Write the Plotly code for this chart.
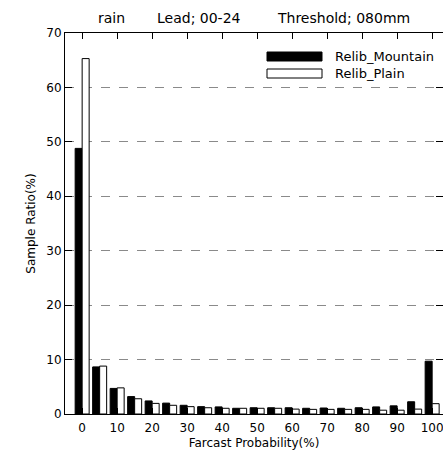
import plotly.graph_objects as go

bins = [0, 5, 10, 15, 20, 25, 30, 35, 40, 45, 50, 55, 60, 65, 70, 75, 80, 85, 90, 95, 100]
mountain = [48.8, 8.65, 4.7, 3.2, 2.4, 2.0, 1.6, 1.35, 1.3, 1.05, 1.15, 1.15, 1.15, 1.05, 1.1, 1.05, 1.15, 1.3, 1.5, 2.25, 9.7]
plain = [65.3, 8.8, 4.8, 2.8, 1.95, 1.6, 1.35, 1.15, 1.05, 1.05, 1.05, 1.05, 0.9, 0.85, 0.85, 0.85, 0.85, 0.7, 0.7, 0.9, 1.9]
x_ticks = [0, 10, 20, 30, 40, 50, 60, 70, 80, 90, 100]
y_ticks = [0, 10, 20, 30, 40, 50, 60, 70]
title_parts = ["rain", "Lead; 00-24", "Threshold; 080mm"]

FONT = "DejaVu Sans"

fig = go.Figure()
fig.add_trace(go.Bar(x=bins, y=mountain, width=2, offset=-2, name="Relib_Mountain",
                     marker=dict(color="black", line=dict(color="black", width=1)),
                     showlegend=False))
fig.add_trace(go.Bar(x=bins, y=plain, width=2, offset=0, name="Relib_Plain",
                     marker=dict(color="white", line=dict(color="black", width=1)),
                     showlegend=False))

axis_common = dict(showline=True, linecolor="black", linewidth=1, mirror="ticks",
                   ticks="inside", tickcolor="black", tickwidth=1,
                   tickfont=dict(family=FONT, size=12, color="black"), zeroline=False)

fig.update_xaxes(range=[-4.9, 103.1], tickvals=x_ticks, ticklen=6, showgrid=False,
                 ticklabelstandoff=3, ticklabeloverflow="allow",
                 title=dict(text="Farcast Probability(%)", font=dict(family=FONT, size=12, color="black"),
                            standoff=4),
                 **axis_common)
fig.update_yaxes(range=[0, 70], tickvals=y_ticks, ticklen=7, showgrid=True,
                 gridcolor="#8a8a8a", gridwidth=1, griddash="dash",
                 title=dict(text="Sample Ratio(%)", font=dict(family=FONT, size=12, color="black"),
                            standoff=8),
                 **axis_common)

# manual legend
fig.add_shape(type="rect", xref="paper", yref="paper", x0=(267 - 65) / 378, x1=(322 - 65) / 378,
              y0=(414 - 61) / 381, y1=(414 - 52) / 381, fillcolor="black", line=dict(color="black", width=1))
fig.add_shape(type="rect", xref="paper", yref="paper", x0=(267 - 65) / 378, x1=(322 - 65) / 378,
              y0=(414 - 78) / 381, y1=(414 - 69) / 381, fillcolor="white", line=dict(color="black", width=1))
fig.add_annotation(xref="paper", yref="paper", x=(333 - 65) / 378, y=(414 - 56.5) / 381,
                   text="Relib_Mountain", showarrow=False, xanchor="left", yanchor="middle",
                   font=dict(family=FONT, size=13, color="black"))
fig.add_annotation(xref="paper", yref="paper", x=(333 - 65) / 378, y=(414 - 73.5) / 381,
                   text="Relib_Plain", showarrow=False, xanchor="left", yanchor="middle",
                   font=dict(family=FONT, size=13, color="black"))

# title pieces
for txt, cx in zip(title_parts, [111, 199, 343]):
    fig.add_annotation(xref="paper", yref="paper", x=(cx - 65) / 378, y=(414 - 18) / 381,
                       text=txt, showarrow=False, xanchor="center", yanchor="middle",
                       font=dict(family=FONT, size=14, color="black"))

fig.update_layout(
    width=443, height=455,
    margin=dict(l=65, r=0, t=33, b=41),
    plot_bgcolor="white", paper_bgcolor="white",
    barmode="overlay",
)

fig.write_html("out.html")
